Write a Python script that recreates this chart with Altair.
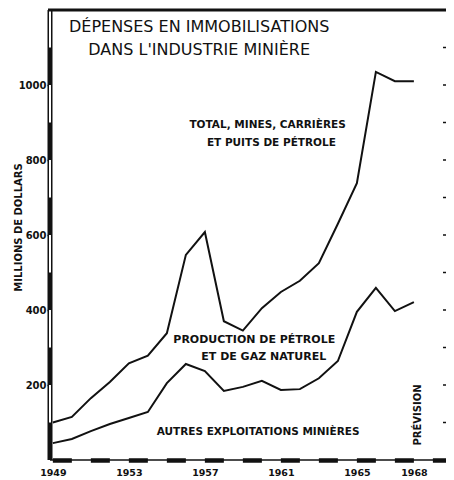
import altair as alt
import pandas as pd

# ---- data ----
years = list(range(1949, 1969))
total = [100, 115, 165, 208, 258, 278, 338, 547, 608, 370, 345, 405, 448, 478, 525, 630, 738, 1035, 1010, 1010]
autres = [45, 56, 77, 96, 112, 128, 205, 256, 237, 184, 195, 211, 187, 189, 218, 264, 395, 459, 397, 421]

y_ticks = [200, 400, 600, 800, 1000]
x_labels = [1949, 1953, 1957, 1961, 1965, 1968]
right_ticks = list(range(100, 1200, 100))
bar_starts = list(range(1949, 1971, 2))
hollow_starts = [100, 300, 500, 700, 900, 1100]

title_lines = ["DÉPENSES EN IMMOBILISATIONS", "DANS L'INDUSTRIE MINIÈRE"]
total_lines = ["TOTAL, MINES, CARRIÈRES", "ET PUITS DE PÉTROLE"]
prod_lines = ["PRODUCTION DE PÉTROLE", "ET DE GAZ NATUREL"]
autres_label = "AUTRES EXPLOITATIONS MINIÈRES"
prev_label = "PRÉVISION"

FONT = "DejaVu Sans"
INK = "#111111"
W, H = 396, 450
X_MIN, X_MAX = 1948.85, 1969.69
xs = alt.Scale(domain=[X_MIN, X_MAX], nice=False, zero=False)
ys = alt.Scale(domain=[0, 1200], nice=False)

xax = alt.Axis(
    values=x_labels, format="d", ticks=False, domain=False, grid=False,
    labelFont=FONT, labelFontSize=9.5, labelFontWeight="bold", labelColor=INK,
    labelPadding=7, title=None)
yax = alt.Axis(
    values=y_ticks, format="d", domain=False, grid=False, tickSize=3, tickColor=INK,
    tickWidth=1.5, labelFont=FONT, labelFontSize=10, labelFontWeight="bold",
    labelColor=INK, labelPadding=1, title="MILLIONS DE DOLLARS", titleFont=FONT,
    titleFontSize=10, titleFontWeight="bold", titleColor=INK, titleBaseline="middle",
    titleX=-32, titleY=217)

lines_df = pd.DataFrame({
    "year": years * 2,
    "value": total + autres,
    "series": ["total"] * len(years) + ["autres"] * len(years),
})

lines = alt.Chart(lines_df).mark_line(color=INK, strokeWidth=2).encode(
    x=alt.X("year:Q", scale=xs, axis=xax),
    y=alt.Y("value:Q", scale=ys, axis=yax),
    detail="series:N",
)

one = pd.DataFrame({"a": [0]})

left_axis = alt.Chart(one).mark_rule(color=INK, strokeWidth=5).encode(
    x=alt.value(0), y=alt.value(0), y2=alt.value(H))

hollow_df = pd.DataFrame({"s": hollow_starts, "e": [v + 100 for v in hollow_starts]})
left_hollow = alt.Chart(hollow_df).mark_rule(color="white", strokeWidth=2).encode(
    x=alt.value(0),
    y=alt.Y("s:Q", scale=ys, axis=yax),
    y2="e:Q")

bottom_line = alt.Chart(one).mark_rule(color=INK, strokeWidth=1.5).encode(
    x=alt.value(0), x2=alt.value(W), y=alt.value(H))

bars_df = pd.DataFrame({"s": bar_starts, "e": [min(v + 1, X_MAX) for v in bar_starts]})
bottom_bars = alt.Chart(bars_df).mark_rule(color=INK, strokeWidth=4.5).encode(
    x=alt.X("s:Q", scale=xs, axis=xax), x2="e:Q", y=alt.value(H + 0.5))

top_line = alt.Chart(one).mark_rule(color=INK, strokeWidth=3).encode(
    x=alt.value(-2), x2=alt.value(W), y=alt.value(0))

rt_df = pd.DataFrame({"v": right_ticks})
right_tk = alt.Chart(rt_df).mark_rule(color=INK, strokeWidth=1.5).encode(
    x=alt.value(W - 3), x2=alt.value(W), y=alt.Y("v:Q", scale=ys, axis=yax))


def text_layer(texts, xpos, ypos, size, weight, angle=0):
    df = pd.DataFrame({"t": texts, "x": xpos, "y": ypos})
    return alt.Chart(df).mark_text(font=FONT, fontSize=size, fontWeight=weight, color=INK,
                                   align="center", baseline="middle", angle=angle).encode(
        x=alt.X("x:Q", scale=xs, axis=xax),
        y=alt.Y("y:Q", scale=ys, axis=yax),
        text="t:N")


t_title = text_layer(title_lines, [1956.7, 1956.7], [1155, 1093], 16, "normal")
t_total = text_layer(total_lines, [1960.3, 1960.5], [893, 845], 10.5, "bold")
t_prod = text_layer(prod_lines, [1959.6, 1960.1], [320, 275], 11, "bold")
t_autres = text_layer([autres_label], [1959.8], [75], 10.5, "bold")
t_prev = text_layer([prev_label], [1968.2], [120], 10, "bold", angle=270)

chart = alt.layer(
    lines, left_axis, left_hollow, bottom_line, bottom_bars, top_line, right_tk,
    t_title, t_total, t_prod, t_autres, t_prev,
).properties(
    width=W, height=H,
    autosize=alt.AutoSizeParams(type="none"),
    padding={"left": 42, "top": 2, "right": 0, "bottom": 18},
    background="white",
).configure_view(stroke=None)

chart.save("out.html", embed_options={"renderer": "svg", "actions": False})
